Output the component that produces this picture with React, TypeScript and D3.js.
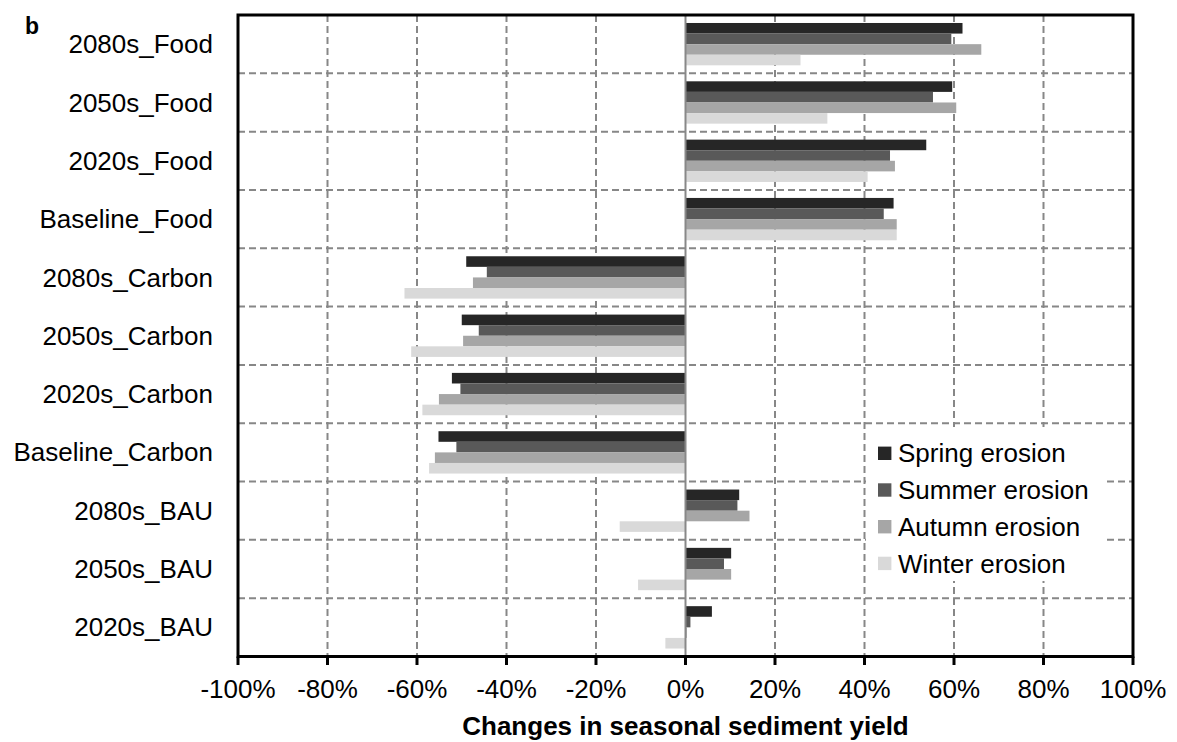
import React from "react";
import * as d3 from "d3";

const categories = [
  "2080s_Food",
  "2050s_Food",
  "2020s_Food",
  "Baseline_Food",
  "2080s_Carbon",
  "2050s_Carbon",
  "2020s_Carbon",
  "Baseline_Carbon",
  "2080s_BAU",
  "2050s_BAU",
  "2020s_BAU",
];
const seriesNames = ["Spring erosion", "Summer erosion", "Autumn erosion", "Winter erosion"];
const spring = [61.9, 59.6, 53.8, 46.5, -49.0, -50.0, -52.2, -55.2, 12.0, 10.2, 5.9];
const summer = [59.4, 55.3, 45.7, 44.3, -44.4, -46.2, -50.3, -51.2, 11.6, 8.6, 1.1];
const autumn = [66.1, 60.5, 46.8, 47.2, -47.5, -49.7, -55.1, -56.0, 14.3, 10.2, 0.3];
const winter = [25.7, 31.7, 40.7, 47.2, -62.8, -61.3, -58.8, -57.3, -14.7, -10.6, -4.5];
const seriesValues = [spring, summer, autumn, winter];
const colors = ["#262626", "#595959", "#a6a6a6", "#d9d9d9"];
const xTicks = [-100, -80, -60, -40, -20, 0, 20, 40, 60, 80, 100];
const xTitle = "Changes in seasonal sediment yield";
const panelLabel = "b";

const W = 1177;
const H = 742;
const L = 238;
const R = 1133;
const T = 15;
const B = 656.5;
const FONT = "'Liberation Sans', Arial, Helvetica, sans-serif";
const GRID = "#878787";

export default function App() {
  const x = d3.scaleLinear().domain([-100, 100]).range([L, R]);
  const y = d3.scaleBand<string>().domain(categories).range([T, B]).padding(0);
  const bw = y.bandwidth();
  const pad = bw * 0.137;
  const ys = d3.scaleBand<string>().domain(seriesNames).range([pad, bw - pad]).padding(0);
  const fmt = (v: number) => `${v}%`;

  const legendX = 878;
  const legendY0 = 453.3;
  const legendStep = 36.7;

  return (
    <svg
      width={W}
      height={H}
      style={{ position: "absolute", left: 0, top: 0, background: "#fff" }}
      fontFamily={FONT}
    >
      <rect x={0} y={0} width={W} height={H} fill="#fff" />
      {/* vertical gridlines */}
      {xTicks
        .filter((t) => t !== 0 && t !== -100 && t !== 100)
        .map((t) => (
          <line
            key={"vg" + t}
            x1={x(t)}
            x2={x(t)}
            y1={T}
            y2={B}
            stroke={GRID}
            strokeWidth={2}
            strokeDasharray="7,4"
          />
        ))}
      {/* horizontal gridlines at category boundaries */}
      {categories.slice(1).map((c) => (
        <line
          key={"hg" + c}
          x1={L}
          x2={R}
          y1={y(c)!}
          y2={y(c)!}
          stroke={GRID}
          strokeWidth={2}
          strokeDasharray="7,4"
        />
      ))}
      {/* bars */}
      {categories.map((c, i) =>
        seriesNames.map((s, j) => {
          const v = seriesValues[j][i];
          const x0 = x(Math.min(0, v));
          const x1 = x(Math.max(0, v));
          return (
            <rect
              key={c + s}
              x={x0}
              y={y(c)! + ys(s)!}
              width={x1 - x0}
              height={ys.bandwidth()}
              fill={colors[j]}
            />
          );
        })
      )}
      {/* zero line */}
      <line x1={x(0)} x2={x(0)} y1={T} y2={B} stroke="#888" strokeWidth={2} />
      {/* legend */}
      <rect x={866} y={427} width={240} height={154} fill="#fff" />
      {seriesNames.map((s, j) => (
        <g key={"lg" + s} transform={`translate(${legendX},${legendY0 + j * legendStep})`}>
          <rect x={0} y={-6.7} width={13.4} height={13.4} fill={colors[j]} />
          <text x={20} y={0} dy="0.35em" fontSize={26} fill="#000">
            {s}
          </text>
        </g>
      ))}
      {/* frame */}
      <rect x={L} y={T} width={R - L} height={B - T} fill="none" stroke="#000" strokeWidth={3} />
      {/* x ticks */}
      {xTicks.map((t) => (
        <g key={"xt" + t}>
          <line x1={x(t)} x2={x(t)} y1={B} y2={B + 8.5} stroke="#000" strokeWidth={3} />
          <text x={x(t)} y={689} dy="0.35em" textAnchor="middle" fontSize={26} fill="#000">
            {fmt(t)}
          </text>
        </g>
      ))}
      {/* category labels */}
      {categories.map((c) => (
        <text
          key={"cl" + c}
          x={213}
          y={y(c)! + bw / 2}
          dy="0.35em"
          textAnchor="end"
          fontSize={26}
          fill="#000"
        >
          {c}
        </text>
      ))}
      {/* axis title */}
      <text x={(L + R) / 2} y={726} dy="0.35em" textAnchor="middle" fontSize={26} fontWeight="bold" fill="#000">
        {xTitle}
      </text>
      {/* panel label */}
      <text x={25} y={26} dy="0.35em" fontSize={23} fontWeight="bold" fill="#000">
        {panelLabel}
      </text>
    </svg>
  );
}
